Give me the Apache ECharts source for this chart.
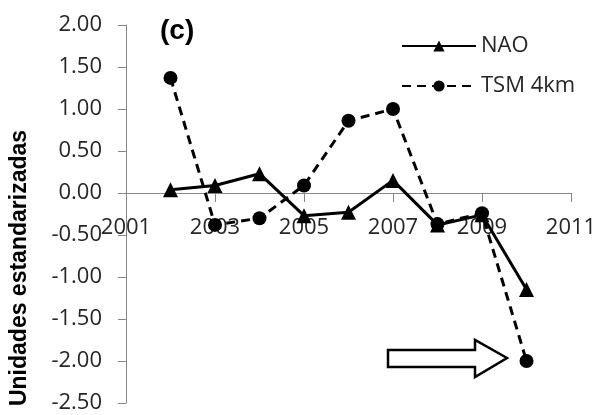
<!DOCTYPE html>
<html><head><meta charset="utf-8">
<script src="https://cdn.jsdelivr.net/npm/echarts@6/dist/echarts.min.js"></script>
<style>html,body{margin:0;padding:0;background:#fff}#c{width:599px;height:415px}</style>
</head><body><div id="c"></div>
<script>
const years = [2002, 2003, 2004, 2005, 2006, 2007, 2008, 2009, 2010];
const nao = [0.04, 0.09, 0.23, -0.27, -0.23, 0.15, -0.38, -0.26, -1.15];
const tsm = [1.37, -0.38, -0.30, 0.09, 0.86, 1.00, -0.37, -0.24, -2.00];
const xTicks = [2001, 2003, 2005, 2007, 2009, 2011];
const yTicks = [-2.5, -2.0, -1.5, -1.0, -0.5, 0, 0.5, 1.0, 1.5, 2.0];

const chart = echarts.init(document.getElementById('c'));
const font = 'Open Sans';
const pair = a => years.map((y, i) => [y, a[i]]);
const option = {
  animation: false,
  grid: {left: 126, right: 28, top: 25, bottom: 12, containLabel: false, outerBoundsMode: 'none'},
  legend: {
    left: 396, top: 30, orient: 'vertical', itemWidth: 74, itemHeight: 14, itemGap: 18,
    textStyle: {fontFamily: font, fontSize: 22, color: '#262626'},
    data: ['NAO', 'TSM 4km']
  },
  title: {text: '(c)', left: 155, top: 12, textStyle: {fontFamily: 'Liberation Sans', fontWeight: 'bold', fontSize: 28, color: '#000'}},
  xAxis: {
    type: 'value', min: xTicks[0], max: xTicks[xTicks.length - 1], interval: 2,
    axisLine: {onZero: false, lineStyle: {color: '#868686', width: 1}},
    axisTick: {show: true, length: 9, inside: false, lineStyle: {color: '#868686'}},
    splitLine: {show: false},
    axisLabel: {margin: 24, fontFamily: font, fontSize: 22, color: '#262626', formatter: v => String(v)}
  },
  yAxis: {
    type: 'value', min: yTicks[0], max: yTicks[yTicks.length - 1], interval: 0.5,
    axisLine: {show: true, lineStyle: {color: '#868686', width: 1}},
    axisTick: {show: true, length: 8, lineStyle: {color: '#868686'}},
    splitLine: {show: false},
    axisLabel: {margin: 24, fontFamily: font, fontSize: 22, color: '#262626', formatter: v => v.toFixed(2)}
  },
  series: [
    {name: 'NAO', type: 'line', data: pair(nao), symbol: 'triangle', symbolSize: 15,
     lineStyle: {color: '#000', width: 3}, itemStyle: {color: '#000'}},
    {name: 'TSM 4km', type: 'line', data: pair(tsm), symbol: 'circle', symbolSize: 14,
     lineStyle: {color: '#000', width: 3, type: [9, 6]}, itemStyle: {color: '#000'}}
  ],
  graphic: [{
    type: 'text', x: 20, y: 268, rotation: Math.PI / 2,
    style: {text: 'Unidades estandarizadas', align: 'center', verticalAlign: 'middle',
            fontFamily: 'Liberation Sans', fontWeight: 'bold', fontSize: 23, fill: '#000'}
  }, {
    type: 'polygon',
    shape: {points: [[388, 350], [475, 350], [475, 340], [507, 358], [475, 377], [475, 367], [388, 367]]},
    style: {fill: '#fff', stroke: '#000', lineWidth: 2.5}
  }]
};
chart.setOption(option);
const zeroY = chart.convertToPixel({yAxisIndex: 0}, 0);
const botY = chart.convertToPixel({yAxisIndex: 0}, yTicks[0]);
chart.setOption({xAxis: {offset: zeroY - botY}});
</script></body></html>
